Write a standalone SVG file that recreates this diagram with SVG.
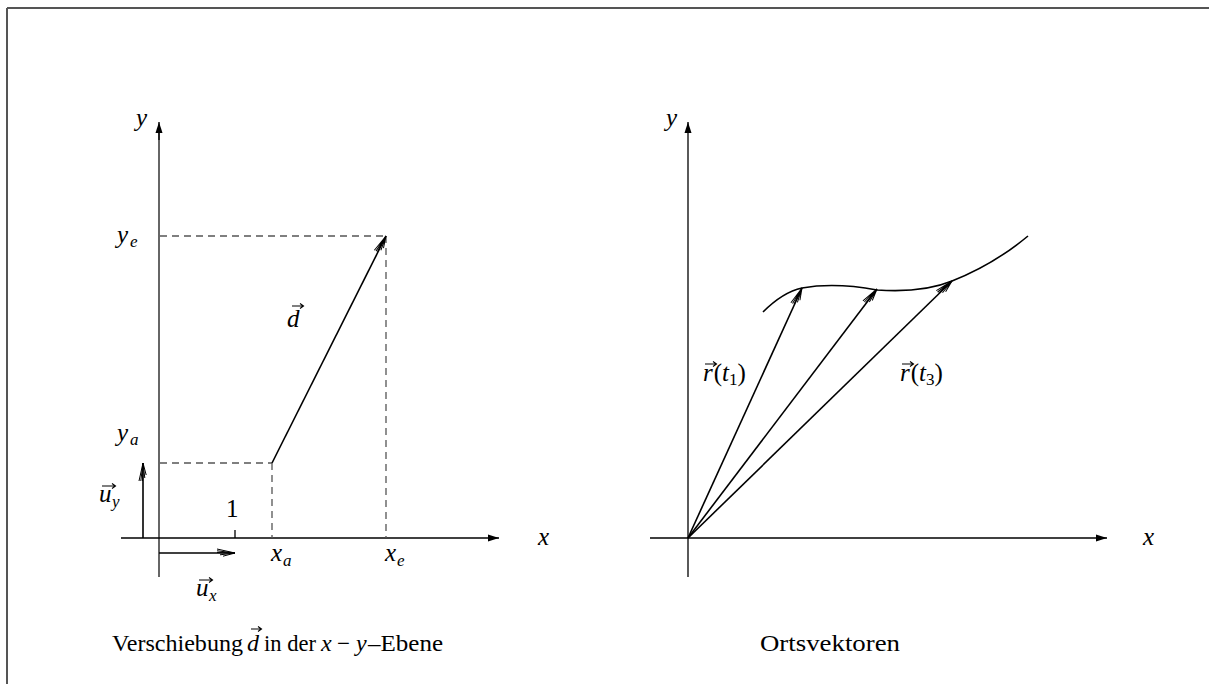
<svg xmlns="http://www.w3.org/2000/svg" width="1209" height="684" viewBox="0 0 1209 684">
<defs>
<marker id="axhead" viewBox="-12 -4 13 8" refX="0" refY="0" markerWidth="13" markerHeight="8" markerUnits="userSpaceOnUse" orient="auto">
<path d="M0,0 L-11,-3.5 L-11,3.5 Z" fill="#000"/>
</marker>
<marker id="vec" viewBox="-20 -6 21 12" refX="0" refY="0" markerWidth="21" markerHeight="12" markerUnits="userSpaceOnUse" orient="auto">
<path d="M0,0 L-18,-4 M0,0 L-18,-2.2 M0,0 L-18,-0.5 M0,0 L-15,1.8 M0,0 L-12,3.2" stroke="#000" stroke-width="1" fill="none"/>
</marker>
</defs>
<style>
.frame{stroke:#555;stroke-width:2;fill:none}
.axis{stroke:#000;stroke-width:1.3;fill:none}
.gaxis{stroke:#666;stroke-width:2;fill:none}
.dash{stroke:#555;stroke-width:1.3;stroke-dasharray:7,5;fill:none}
.vecl{stroke:#000;stroke-width:1.6;fill:none}
.acc{stroke:#000;stroke-width:1.1;fill:none}
.m{font-family:"Liberation Serif","DejaVu Serif",serif;font-style:italic;font-size:25px;fill:#000}
.s{font-family:"Liberation Serif","DejaVu Serif",serif;font-style:italic;font-size:17px;fill:#000}
.r{font-family:"Liberation Serif","DejaVu Serif",serif;font-size:25px;fill:#000}
.rs{font-family:"Liberation Serif","DejaVu Serif",serif;font-size:17px;fill:#000}
.cap{font-family:"Liberation Serif","DejaVu Serif",serif;font-size:23px;fill:#000}
.capm{font-family:"Liberation Serif","DejaVu Serif",serif;font-style:italic;font-size:24px;fill:#000}
</style>

<g id="frame">
<line class="frame" x1="7" y1="8" x2="1209" y2="8"/>
<line class="frame" x1="7" y1="8" x2="7" y2="684"/>
</g>

<g id="connectors">
<!-- left diagram axes -->
<line class="gaxis" x1="159" y1="577" x2="159" y2="126"/>
<line class="axis" x1="159" y1="140" x2="159" y2="122" marker-end="url(#axhead)"/>
<line class="axis" x1="121" y1="538" x2="499" y2="538" marker-end="url(#axhead)"/>
<!-- dashed guides -->
<line class="dash" x1="160" y1="236" x2="386" y2="236"/>
<line class="dash" x1="386" y1="236" x2="386" y2="538"/>
<line class="dash" x1="160" y1="463" x2="272" y2="463"/>
<line class="dash" x1="272" y1="463" x2="272" y2="538"/>
<!-- tick 1 -->
<line class="axis" x1="235" y1="530" x2="235" y2="538"/>
<!-- d vector -->
<line class="vecl" x1="272" y1="463" x2="386" y2="236" marker-end="url(#vec)"/>
<!-- unit vectors -->
<line class="vecl" x1="143" y1="538" x2="143" y2="463" marker-end="url(#vec)"/>
<line class="vecl" x1="159" y1="553" x2="235" y2="553" marker-end="url(#vec)"/>

<!-- right diagram axes -->
<line class="axis" x1="688" y1="577" x2="688" y2="122" marker-end="url(#axhead)"/>
<line class="axis" x1="650" y1="538" x2="1107" y2="538" marker-end="url(#axhead)"/>
<!-- curve -->
<path class="vecl" d="M763,312 C775,300 788,291 802,288 C825,284 850,285 877,290 C905,292 930,290 952,281 C980,270 1005,255 1028,236"/>
<!-- position vectors -->
<line class="vecl" x1="688" y1="538" x2="802" y2="288" marker-end="url(#vec)"/>
<line class="vecl" x1="688" y1="538" x2="877" y2="289" marker-end="url(#vec)"/>
<line class="vecl" x1="688" y1="538" x2="952" y2="281" marker-end="url(#vec)"/>
</g>

<g id="labels-left">
<text class="m" x="136" y="126">y</text>
<text class="m" x="117" y="243">y</text><text class="s" x="130" y="247">e</text>
<text class="m" x="117" y="441">y</text><text class="s" x="130" y="445">a</text>
<text class="m" x="99" y="502">u</text><text class="s" x="112" y="507">y</text>
<path class="acc" d="M102,486 L115,486 M112,483.5 L115.5,486 L112,488.5"/>
<text class="m" x="196" y="596">u</text><text class="s" x="209" y="601">x</text>
<path class="acc" d="M199,580 L212,580 M209,577.5 L212.5,580 L209,582.5"/>
<text class="r" x="226" y="517">1</text>
<text class="m" x="271" y="561">x</text><text class="s" x="283" y="566">a</text>
<text class="m" x="385" y="561">x</text><text class="s" x="397" y="566">e</text>
<text class="m" x="538" y="545">x</text>
<text class="m" x="287" y="327">d</text>
<path class="acc" d="M292,306 L303,306 M300,303.5 L303.5,306 L300,308.5"/>
</g>

<g id="labels-right">
<text class="m" x="666" y="126">y</text>
<text class="m" x="1143" y="545">x</text>
<text x="703" y="381"><tspan class="m">r</tspan><tspan class="r" dx="1">(</tspan><tspan class="m">t</tspan><tspan class="rs" dy="4">1</tspan><tspan class="r" dy="-4">)</tspan></text>
<path class="acc" d="M705,364 L716,364 M713,361.5 L716.5,364 L713,366.5"/>
<text x="900" y="381"><tspan class="m">r</tspan><tspan class="r" dx="1">(</tspan><tspan class="m">t</tspan><tspan class="rs" dy="4">3</tspan><tspan class="r" dy="-4">)</tspan></text>
<path class="acc" d="M902,364 L913,364 M910,361.5 L913.5,364 L910,366.5"/>
</g>

<g id="captions">
<text class="cap" x="112" y="651"><tspan textLength="131" lengthAdjust="spacingAndGlyphs">Verschiebung</tspan><tspan x="247" class="capm">d</tspan><tspan x="264" textLength="52" lengthAdjust="spacingAndGlyphs">in der</tspan><tspan x="321" class="capm">x</tspan><tspan x="337">−</tspan><tspan x="356" class="capm">y</tspan><tspan x="368" textLength="75" lengthAdjust="spacingAndGlyphs">–Ebene</tspan></text>
<path class="acc" d="M251,629 L261,629 M258,626.5 L261.5,629 L258,631.5"/>
<text class="cap" x="760" y="651" textLength="140" lengthAdjust="spacingAndGlyphs">Ortsvektoren</text>
</g>
</svg>
